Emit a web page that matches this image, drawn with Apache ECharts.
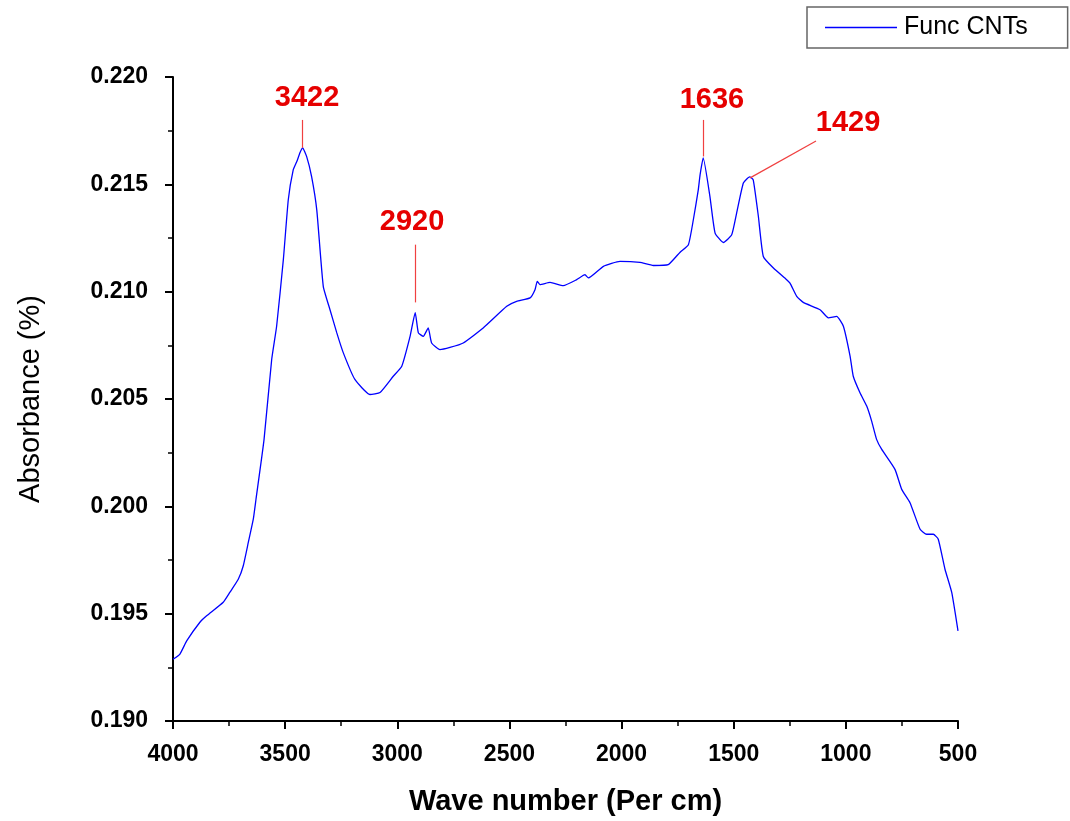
<!DOCTYPE html>
<html>
<head>
<meta charset="utf-8">
<script src="https://cdn.jsdelivr.net/npm/echarts@6/dist/echarts.min.js"></script>
<style>
html,body{margin:0;padding:0;background:#fff;}
#chart{width:1070px;height:821px;}
</style>
</head>
<body>
<div id="chart"></div>
<script>
// Wave number (cm^-1)
const wavenumber = [4000,3969,3939,3880,3850,3776,3746,3709,3687,3664,3642,3630,3594,3560,3538,3508,3486,3464,3448,3434,3422,3404,3382,3359,3330,3300,3270,3241,3189,3122,3077,3018,2980,2943,2920,2906,2884,2862,2847,2810,2765,2706,2617,2512,2468,2408,2386,2376,2364,2319,2260,2200,2163,2148,2081,2007,1918,1858,1792,1739,1702,1680,1658,1650,1636,1606,1583,1546,1509,1487,1457,1429,1413,1390,1368,1323,1264,1249,1219,1190,1115,1078,1041,1011,981,967,937,907,885,863,840,781,751,714,669,640,610,588,558,528,500];
// Absorbance
const absorbance = [0.19288,0.19312,0.19373,0.19460,0.19490,0.19553,0.19600,0.19660,0.19722,0.19833,0.19940,0.20033,0.20312,0.20684,0.20839,0.21149,0.21428,0.21567,0.21606,0.21647,0.21670,0.21629,0.21536,0.21381,0.21025,0.20916,0.20809,0.20716,0.20591,0.20521,0.20530,0.20606,0.20653,0.20792,0.20902,0.20808,0.20792,0.20831,0.20761,0.20730,0.20740,0.20761,0.20831,0.20932,0.20955,0.20971,0.21009,0.21048,0.21033,0.21043,0.21028,0.21056,0.21079,0.21064,0.21118,0.21141,0.21136,0.21122,0.21126,0.21184,0.21219,0.21335,0.21474,0.21544,0.21623,0.21443,0.21273,0.21229,0.21265,0.21366,0.21506,0.21535,0.21521,0.21350,0.21164,0.21110,0.21056,0.21040,0.20978,0.20950,0.20916,0.20878,0.20885,0.20839,0.20699,0.20606,0.20529,0.20467,0.20397,0.20312,0.20265,0.20172,0.20079,0.20017,0.19893,0.19870,0.19870,0.19847,0.19707,0.19599,0.19420];

// Peak annotations
const peakNames = ['3422','2920','1636','1429'];
const peakLabelPos = [[3402,0.21902],[2934,0.21326],[1597,0.21893],[990,0.21786]];
const leaderStart = [[3422,0.2180],[2920,0.21219],[1636,0.2180],[1133,0.21702]];
const leaderEnd = [[3422,0.2167],[2920,0.2095],[1636,0.2163],[1427,0.2153]];

const seriesName = 'Func CNTs';

const chart = echarts.init(document.getElementById('chart'), null, {renderer:'canvas'});
const data = wavenumber.map((w,i)=>[w, absorbance[i]]);

const option = {
  backgroundColor:'#ffffff',
  animation:false,
  grid:{left:173,right:112,top:77,bottom:99,containLabel:false},
  legend:{
    show:true,
    data:[{name:seriesName, icon:'rect'}],
    left:807, top:7,
    padding:[8,40,8,18],
    borderColor:'#666', borderWidth:1.5,
    itemWidth:72, itemHeight:1.5, itemGap:0,
    itemStyle:{color:'#0000ff'},
    textStyle:{fontFamily:'Arial, "Liberation Sans", sans-serif', fontSize:25, color:'#000', padding:[0,0,0,2]},
  },
  xAxis:{
    type:'value', inverse:true, min:500, max:4000, interval:500,
    name:'Wave number (Per cm)', nameLocation:'middle', nameGap:66,
    nameTextStyle:{fontFamily:'Arial, "Liberation Sans", sans-serif', fontWeight:'bold', fontSize:29, color:'#000'},
    axisLine:{show:true, onZero:false, lineStyle:{color:'#000', width:2}},
    axisTick:{show:true, inside:false, length:8, lineStyle:{color:'#000', width:2}},
    minorTick:{show:true, splitNumber:2, length:5, lineStyle:{color:'#000', width:1.5}},
    axisLabel:{margin:22, fontFamily:'"Liberation Sans Narrow", "Arial Narrow", Arial, sans-serif', fontWeight:'bold', fontSize:23, color:'#000',
      formatter:(v)=>String(v)},
    splitLine:{show:false}
  },
  yAxis:{
    type:'value', min:0.190, max:0.220, interval:0.005,
    name:'Absorbance (%)', nameLocation:'middle', nameGap:128,
    nameTextStyle:{fontFamily:'Arial, "Liberation Sans", sans-serif', fontSize:29, color:'#000'},
    axisLine:{show:true, onZero:false, lineStyle:{color:'#000', width:2}},
    axisTick:{show:true, inside:false, length:8, lineStyle:{color:'#000', width:2}},
    minorTick:{show:true, splitNumber:2, length:5, lineStyle:{color:'#000', width:1.5}},
    axisLabel:{margin:25, fontFamily:'Arial, "Liberation Sans", sans-serif', fontWeight:'bold', fontSize:23, color:'#000',
      formatter:(v)=>v.toFixed(3)},
    splitLine:{show:false}
  },
  series:[{
    name:seriesName,
    type:'line',
    data:data,
    symbol:'none',
    showSymbol:false,
    smooth:0.15,
    lineStyle:{color:'#0000ff', width:1.3},
    itemStyle:{color:'#0000ff'},
    markLine:{
      silent:true,
      symbol:['none','none'],
      label:{show:false},
      lineStyle:{color:'#f04040', width:1.2, type:'solid'},
      data: leaderStart.map((s,i)=>[{coord:s},{coord:leaderEnd[i]}])
    },
    markPoint:{
      silent:true,
      symbol:'circle', symbolSize:0,
      label:{show:true, position:'inside', formatter:(p)=>p.name,
        fontFamily:'Arial, "Liberation Sans", sans-serif', fontWeight:'bold', fontSize:29, color:'#e60000'},
      data: peakNames.map((n,i)=>({name:n, coord:peakLabelPos[i]}))
    }
  }]
};
chart.setOption(option);
</script>
</body>
</html>
